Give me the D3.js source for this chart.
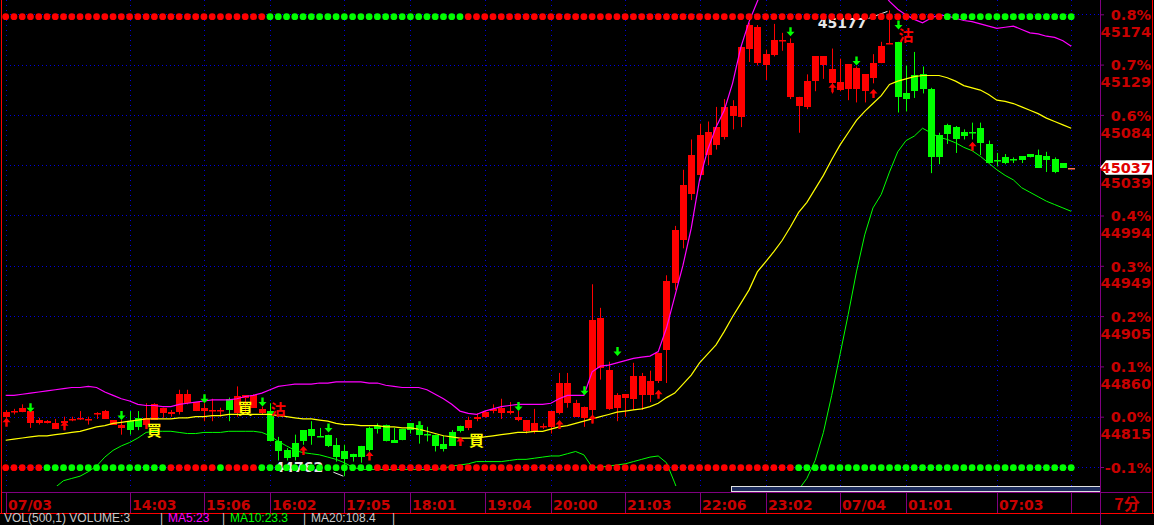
<!DOCTYPE html>
<html><head><meta charset="utf-8">
<script src="https://cdn.jsdelivr.net/npm/d3@7"></script>
<style>
html,body{margin:0;padding:0;background:#000;overflow:hidden;}
svg{display:block;}
</style></head><body>
<svg id="chart" width="1154" height="525"></svg>
<script>
// ---------------- data ----------------
const basePrice = 44815;
const tickPcts = [-0.1, 0, 0.1, 0.2, 0.3, 0.4, 0.5, 0.6, 0.7, 0.8];
const pctLabels = ["-0.1%","0.0%","0.1%","0.2%","0.3%","0.4%","0.5%","0.6%","0.7%","0.8%"];
const priceLabels = ["","44815","44860","44905","44949","44994","45039","45084","45129","45174"];
const timeTickIndex = [0,15,24,32,41,49,58,66,75,84,92,101,109,120,129];
const timeTickLabels = ["07/03","14:03","15:06","16:02","17:05","18:01","19:04","20:00","21:03","22:06","23:02","07/04","01:01","07:03",""];
const periodLabel = "7分";

const opens = [
44815,44819,44819,44809,44809,44809,44804,44809,44812,44813,
44812,44817,44813,44808,44805,44811,44814,44808,44812,44818,
44817,44819,44827,44820,44820,44820,44820,44831,44818,44832,
44823,44818,44820,44793,44785,44792,44803,44804,44798,44799,
44790,44784,44782,44789,44805,44807,44808,44794,44804,44809,
44808,44800,44799,44791,44801,44807,44805,44813,44815,44820,
44818,44818,44812,44802,44801,44806,44806,44818,44827,44815,
44814,44821,44858,44822,44823,44832,44831,44834,44834,44847,
44874,44934,44972,45013,45030,45048,45057,45064,45083,45082,
45143,45130,45128,45137,45150,45100,45092,45091,45114,45128,
45112,45106,45107,45107,45105,45117,45130,45147,45149,45103,
45119,45120,45107,45066,45075,45073,45069,45069,45072,45058,
45044,45046,45045,45047,45049,45048,45047,45045,45041,45037];
const highs = [
44821,44822,44826,44825,44814,44812,44813,44815,44815,44820,
44815,44819,44821,44812,44812,44820,44820,44827,44827,44823,
44821,44839,44839,44828,44827,44831,44823,44832,44842,44834,
44835,44824,44827,44797,44787,44799,44803,44811,44805,44799,
44796,44790,44782,44789,44806,44809,44808,44805,44804,44809,
44809,44806,44799,44798,44803,44807,44815,44818,44820,44826,
44831,44828,44820,44812,44822,44809,44820,44854,44854,44830,
44824,44933,44912,44864,44836,44835,44863,44854,44856,44872,
44941,44985,45035,45062,45076,45078,45091,45098,45097,45145,
45166,45164,45142,45165,45157,45152,45100,45120,45136,45136,
45143,45134,45129,45127,45120,45138,45149,45177,45149,45128,
45140,45127,45108,45068,45076,45074,45071,45077,45077,45061,
45050,45049,45046,45047,45049,45053,45051,45046,45041,45037];
const lows = [
44813,44817,44819,44805,44808,44809,44804,44803,44811,44812,
44808,44813,44813,44808,44799,44799,44803,44806,44812,44814,
44815,44817,44826,44820,44811,44811,44815,44811,44815,44818,
44823,44817,44793,44776,44776,44776,44790,44790,44797,44788,
44775,44762,44775,44774,44784,44800,44793,44792,44794,44800,
44791,44793,44784,44784,44789,44801,44803,44811,44814,44818,
44813,44817,44811,44800,44800,44804,44800,44817,44823,44815,
44806,44809,44848,44821,44811,44815,44821,44821,44828,44845,
44845,44928,44965,45008,45026,45039,45053,45062,45071,45073,
45131,45128,45115,45136,45141,45098,45068,45089,45105,45116,
45103,45105,45097,45095,45095,45112,45130,45147,45086,45087,
45099,45103,45032,45040,45058,45050,45062,45062,45048,45041,
45038,45040,45041,45041,45046,45037,45033,45032,45037,45037];
const closes = [
44819,44820,44823,44820,44812,44811,44809,44811,44813,44814,
44813,44818,44820,44812,44808,44803,44806,44814,44826,44823,
44819,44835,44835,44828,44823,44821,44821,44821,44833,44834,
44834,44822,44793,44784,44778,44779,44793,44798,44797,44789,
44779,44777,44779,44779,44785,44804,44793,44792,44794,44803,
44799,44799,44789,44786,44789,44802,44812,44815,44819,44822,
44823,44820,44815,44812,44809,44807,44820,44845,44845,44827,
44824,44901,44903,44857,44834,44835,44851,44851,44847,44872,
44936,44981,45021,45048,45066,45069,45073,45091,45092,45144,
45164,45162,45138,45151,45151,45148,45100,45114,45136,45136,
45125,45113,45129,45126,45120,45130,45145,45148,45100,45098,
45105,45107,45046,45046,45067,45062,45065,45068,45059,45041,
45043,45041,45044,45044,45046,45037,45044,45033,45037,45037];

// bands (upper = magenta, mid = yellow, lower = green)
const upperBand = [
44834,44834,44835,44836,44837,44838,44839,44840,44841,44841,
44842,44841,44837,44834,44831,44829,44826,44825,44825,44824,
44824,44826,44827,44828,44829,44830,44830,44830,44831,44833,
44834,44836,44839,44842,44843,44844,44844,44844,44845,44845,
44846,44846,44846,44846,44845,44845,44843,44842,44841,44841,
44841,44839,44835,44831,44826,44820,44818,44817,44820,44822,
44824,44825,44826,44826,44826,44826,44827,44831,44834,44834,
44834,44855,44860,44861,44863,44865,44867,44868,44869,44873,
44894,44922,44950,44983,45026,45053,45073,45088,45112,45144,
45167,45185,45202,45212,45218,45222,45225,45226,45226,45225,
45223,45220,45216,45210,45205,45200,45195,45185,45178,45173,
45169,45166,45170,45173,45172,45170,45168,45167,45165,45163,
45161,45162,45163,45160,45157,45156,45154,45153,45150,45145];
const midBand = [
44794,44795,44796,44797,44798,44798,44799,44800,44801,44802,
44804,44806,44807,44809,44810,44811,44812,44813,44813,44813,
44813,44814,44814,44815,44815,44816,44816,44817,44817,44817,
44817,44817,44817,44816,44815,44814,44813,44813,44812,44811,
44809,44808,44808,44807,44807,44807,44806,44806,44805,44805,
44804,44802,44800,44798,44797,44796,44796,44796,44797,44798,
44799,44800,44801,44801,44802,44802,44804,44806,44807,44809,
44811,44813,44815,44817,44819,44820,44821,44822,44824,44827,
44832,44836,44844,44852,44863,44871,44879,44891,44904,44916,
44928,44944,44953,44962,44972,44984,44997,45006,45018,45030,
45044,45057,45068,45079,45087,45094,45101,45111,45114,45116,
45118,45119,45119,45119,45117,45114,45110,45108,45106,45102,
45097,45096,45094,45091,45088,45085,45081,45078,45075,45072];
const lowerBand = [
44741,44743,44744,44746,44748,44750,44752,44758,44760,44762,
44766,44771,44779,44785,44789,44792,44796,44801,44802,44802,
44802,44801,44800,44800,44801,44801,44801,44802,44802,44802,
44802,44801,44798,44793,44789,44785,44783,44782,44781,44779,
44777,44774,44770,44768,44768,44768,44768,44768,44768,44768,
44768,44768,44768,44769,44771,44772,44773,44775,44775,44775,
44775,44776,44777,44777,44778,44779,44780,44780,44782,44784,
44781,44770,44770,44771,44772,44773,44775,44777,44779,44780,
44774,44756,44736,44723,44714,44708,44705,44703,44702,44702,
44704,44708,44713,44718,44724,44732,44750,44760,44776,44801,
44834,44870,44906,44944,44977,45001,45013,45033,45051,45061,
45065,45072,45068,45064,45062,45059,45055,45052,45047,45041,
45035,45030,45026,45019,45015,45011,45007,45004,45001,44998];

// state dots per candle: R = red, G = green
const topDotStates = [
"RRRRRRRRRR","RRRRRRRRRR","RRRRRRRRRR","RRGGGGGGGG","GGGGGGGGGG",
"GGGGGGRRRR","RRRRRRRRRR","RRRRRRRRRR","RRRRRRRRRR","RRRRRRRRRR",
"RRRRRRRRRR","RRRRGGGGGG","GGGGGGGGGG"].join("");
const bottomDotStates = [
"RRRRRGGGGG","GGGGGGGGGG","RRRRRRGRRR","RGGGGGGGGG","GGGGGRRRRR",
"RRRRRRRRRR","RRRRRRRRRR","RRRRRRRRRR","RRRRRRRRRR","RRRRRRGGGG",
"GGGGGGGGGG","GGGGGGGGGG","GGGGGGGGGG"].join("");

// signals
const sellArrowIdx   = [3,14,24,31,39,50,62,70,74,95,103,108];
const sellArrowPrice = [44819,44812,44827,44824,44801,44803,44820,44834,44869,45154,45128,45160];
const buyArrowIdx    = [0,7,17,36,44,55,67,71,79,100,105,117];
const buyArrowPrice  = [44814,44811,44812,44789,44784,44797,44812,44817,44839,45112,45107,45060];
const buyTextIdx   = [18,29,57];
const buyTextPrice = [44803,44822,44794];
const sellTextIdx   = [33,109];
const sellTextPrice = [44821,45155];
const buyText = "買", sellText = "沽";

const legendTexts  = ["VOL(500,1) VOLUME:3","|","MA5:23","|","MA10:23.3","|","MA20:108.4","|"];
const legendColors = ["#c8c8c8","#c8c8c8","#ff00ff","#c8c8c8","#00ff00","#c8c8c8","#c8c8c8","#c8c8c8"];

// ---------------- layout ----------------
const plotRight = 1100, plotBottom = 486, axisY = 492.5;
const legendX = [4,160,168,222,230,303,311,392];
const RED = "#ff0000", GREEN = "#00ff00", AXIS_RED = "#c80000", PURPLE = "#800080";
const GRID = "#0000e0";
const numFont = "'DejaVu Sans', sans-serif";
const cjk = "'Noto Sans CJK TC','Noto Sans CJK SC',sans-serif";

const svg = d3.select("#chart");
svg.append("rect").attr("width",1154).attr("height",525).attr("fill","#000");

const x = d3.scaleLinear().domain([0, opens.length - 1]).range([5.7, 1071.2]);
const y = d3.scaleLinear().domain([basePrice, basePrice * 1.008]).range([416.7, 14.3]);
const tickPrices = tickPcts.map(p => basePrice * (1 + p / 100));
const lastPrice = closes[closes.length-1];
const lastY = y(lastPrice);

svg.append("defs").append("clipPath").attr("id","plotClip")
  .append("rect").attr("x",2).attr("y",0).attr("width",plotRight-2).attr("height",plotBottom);

// gridlines
const grid = svg.append("g");
grid.selectAll("line.h").data(tickPrices).join("line")
  .attr("x1",6).attr("x2",plotRight-1)
  .attr("y1",d=>Math.round(y(d))+0.5).attr("y2",d=>Math.round(y(d))+0.5)
  .attr("stroke",GRID).attr("stroke-dasharray","1,3");
grid.selectAll("line.v").data(timeTickIndex).join("line")
  .attr("x1",d=>Math.round(x(d))+0.5).attr("x2",d=>Math.round(x(d))+0.5)
  .attr("y1",0).attr("y2",plotBottom)
  .attr("stroke",GRID).attr("stroke-dasharray","1,4");

const plot = svg.append("g").attr("clip-path","url(#plotClip)");

// candles
const candles = opens.map((o,i)=>({i,o,h:highs[i],l:lows[i],c:closes[i]}));
const colorOf = d => d.c > d.o ? RED : (d.c < d.o ? GREEN : "#ff7050");
const cg = plot.append("g");
cg.selectAll("line").data(candles).join("line")
  .attr("x1",d=>Math.round(x(d.i))+0.5).attr("x2",d=>Math.round(x(d.i))+0.5)
  .attr("y1",d=>y(d.h)).attr("y2",d=>y(d.l))
  .attr("stroke",colorOf).attr("stroke-width",1);
cg.selectAll("rect").data(candles).join("rect")
  .attr("x",d=>Math.round(x(d.i))-3).attr("width",7)
  .attr("y",d=>Math.round(y(Math.max(d.o,d.c))))
  .attr("height",d=>Math.max(1.5, Math.round(y(Math.min(d.o,d.c))) - Math.round(y(Math.max(d.o,d.c)))))
  .attr("fill",colorOf);

// bands
const line = d3.line().x((d,i)=>x(i)).y(d=>y(d));
plot.append("path").attr("d",line(lowerBand)).attr("fill","none").attr("stroke","#00ff00").attr("stroke-width",1);
plot.append("path").attr("d",line(midBand)).attr("fill","none").attr("stroke","#ffff00").attr("stroke-width",1.2);
plot.append("path").attr("d",line(upperBand)).attr("fill","none").attr("stroke","#ff00ff").attr("stroke-width",1.2);

// arrows
const downArrow = "M-1.2,-9 h2.4 v4.5 h2.8 L0,0 L-4,-4.5 h2.8 Z";
const upArrow   = "M-1.2,9 h2.4 v-4.5 h2.8 L0,0 L-4,4.5 h2.8 Z";
plot.selectAll("path.sa").data(sellArrowIdx).join("path")
  .attr("d",downArrow).attr("fill",GREEN)
  .attr("transform",(d,k)=>`translate(${Math.round(x(d))+0.5},${y(sellArrowPrice[k])})`);
plot.selectAll("path.ba").data(buyArrowIdx).join("path")
  .attr("d",upArrow).attr("fill",RED)
  .attr("transform",(d,k)=>`translate(${Math.round(x(d))+0.5},${y(buyArrowPrice[k])})`);

// buy / sell characters
plot.selectAll("text.bt").data(buyTextIdx).join("text")
  .attr("x",d=>x(d)).attr("y",(d,k)=>y(buyTextPrice[k])+5.5)
  .attr("text-anchor","middle").attr("font-family",cjk).attr("font-weight","bold")
  .attr("font-size",15).attr("fill","#ffff00").text(buyText);
plot.selectAll("text.st").data(sellTextIdx).join("text")
  .attr("x",d=>x(d)).attr("y",(d,k)=>y(sellTextPrice[k])+5.5)
  .attr("text-anchor","middle").attr("font-family",cjk).attr("font-weight","bold")
  .attr("font-size",15).attr("fill",RED).text(sellText);

// high / low labels
const hiIdx = d3.maxIndex(highs), loIdx = d3.minIndex(lows);
const hx = x(hiIdx), hy = y(highs[hiIdx]);
const lx = x(loIdx), ly = y(lows[loIdx]);
plot.append("text").attr("x",hx-23).attr("y",hy+18).attr("text-anchor","end")
  .attr("font-family",numFont).attr("font-weight","bold").attr("font-size",14)
  .attr("fill","#e8e8e8").text(highs[hiIdx]);
plot.append("line").attr("x1",hx-21).attr("y1",hy+8).attr("x2",hx-2).attr("y2",hy+1)
  .attr("stroke","#e8e8e8");
plot.append("text").attr("x",lx-21).attr("y",ly-4).attr("text-anchor","end")
  .attr("font-family",numFont).attr("font-weight","bold").attr("font-size",14)
  .attr("fill","#e8e8e8").text(lows[loIdx]);
plot.append("line").attr("x1",lx-11).attr("y1",ly-4).attr("x2",lx-1).attr("y2",ly)
  .attr("stroke","#e8e8e8");

// state dots
const dotG = svg.append("g");
dotG.selectAll("circle.t").data(topDotStates.split("")).join("circle")
  .attr("cx",(d,i)=>x(i)).attr("cy",16.7).attr("r",3.4)
  .attr("fill",d=>d==="R"?RED:GREEN);
dotG.selectAll("circle.b").data(bottomDotStates.split("")).join("circle")
  .attr("cx",(d,i)=>x(i)).attr("cy",467.7).attr("r",3.4)
  .attr("fill",d=>d==="R"?RED:GREEN);

// scrollbar
svg.append("rect").attr("x",731.5).attr("y",486.5).attr("width",369).attr("height",5)
  .attr("fill","#1c2c5c").attr("stroke","#e0e0e0").attr("stroke-width",1);

// frame lines
svg.append("line").attr("x1",1.5).attr("x2",1.5).attr("y1",0).attr("y2",513.5).attr("stroke",RED);
svg.append("line").attr("x1",1152.5).attr("x2",1152.5).attr("y1",0).attr("y2",513.5).attr("stroke",RED);
svg.append("line").attr("x1",0).attr("x2",1154).attr("y1",513.5).attr("y2",513.5).attr("stroke",RED);
svg.append("line").attr("x1",2).attr("x2",1152).attr("y1",axisY).attr("y2",axisY).attr("stroke",PURPLE);
svg.append("line").attr("x1",plotRight+0.5).attr("x2",plotRight+0.5).attr("y1",0).attr("y2",525).attr("stroke",PURPLE);

// right axis (percent); the label under the last-price tag is hidden as in the original
const yAxis = d3.axisRight(y).tickValues(tickPrices).tickSize(4)
  .tickFormat((d,i)=> Math.abs(y(d)-lastY) < 10 ? "" : pctLabels[i]);
const gy = svg.append("g").attr("transform",`translate(${plotRight},0)`).call(yAxis);
gy.select(".domain").remove();
gy.selectAll(".tick line").attr("stroke",PURPLE);
gy.selectAll(".tick text").attr("x",51).attr("dy","0.36em").attr("text-anchor","end")
  .attr("font-family",numFont).attr("font-weight","bold").attr("font-size",14.5).attr("fill",AXIS_RED);
// price labels under percent labels
svg.append("g").selectAll("text").data(tickPrices).join("text")
  .attr("x",1151).attr("y",d=>y(d)+22.6).attr("text-anchor","end")
  .attr("font-family",numFont).attr("font-weight","bold").attr("font-size",14.5).attr("fill",AXIS_RED)
  .text((d,i)=>priceLabels[i]);

// last price tag
svg.append("path")
  .attr("d",`M${plotRight},${lastY} L${plotRight+6},${lastY-7.2} L1152,${lastY-7.2} L1152,${lastY+7.2} L${plotRight+6},${lastY+7.2} Z`)
  .attr("fill","#ffffff");
svg.append("text").attr("x",1151).attr("y",lastY+5.3).attr("text-anchor","end")
  .attr("font-family",numFont).attr("font-weight","bold").attr("font-size",14.5).attr("fill","#e00000")
  .text(lastPrice);

// x axis
const xAxis = d3.axisBottom(x).tickValues(timeTickIndex).tickSize(21).tickFormat((d,i)=>timeTickLabels[i]);
const gx = svg.append("g").attr("transform",`translate(0,${axisY-0.5})`).call(xAxis);
gx.select(".domain").remove();
gx.selectAll(".tick line").attr("stroke",PURPLE);
gx.selectAll(".tick").attr("transform",d=>`translate(${Math.round(x(d))+0.5},0)`);
gx.selectAll(".tick text").attr("x",1.5).attr("y",17.5).attr("dy",0).attr("text-anchor","start")
  .attr("font-family",numFont).attr("font-weight","bold").attr("font-size",14).attr("fill",AXIS_RED);
svg.append("text").attr("x",1127).attr("y",510).attr("text-anchor","middle")
  .attr("font-family",cjk).attr("font-weight","bold").attr("font-size",16).attr("fill",AXIS_RED)
  .text(periodLabel);

// volume legend (bottom strip)
svg.append("g").selectAll("text").data(legendTexts).join("text")
  .attr("x",(d,i)=>legendX[i]).attr("y",522)
  .attr("font-family","'Liberation Sans', Arial, sans-serif").attr("font-size",12)
  .attr("fill",(d,i)=>legendColors[i]).text(d=>d);
</script>
</body></html>
